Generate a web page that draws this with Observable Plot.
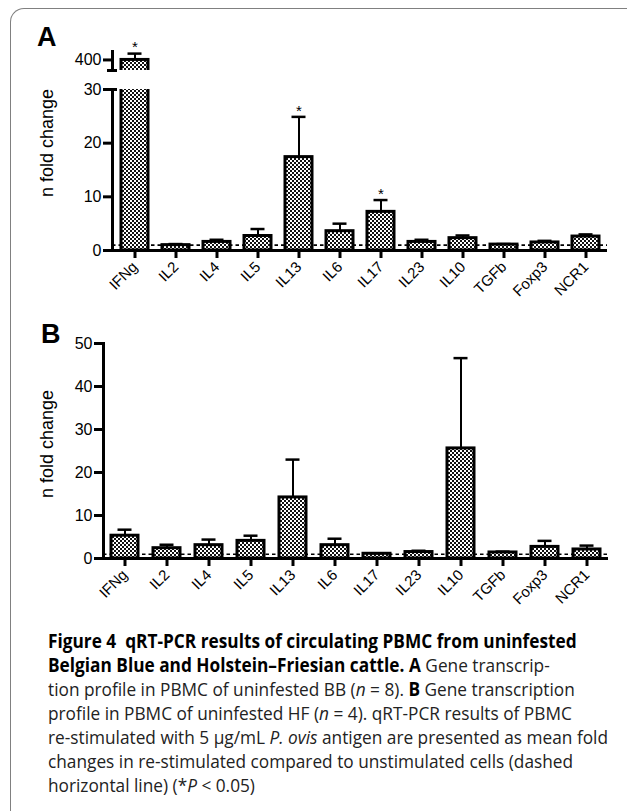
<!DOCTYPE html>
<html><head><meta charset="utf-8">
<script src="https://cdn.jsdelivr.net/npm/d3@7"></script>
<script src="https://cdn.jsdelivr.net/npm/@observablehq/plot@0.6"></script>
<style>
html,body{margin:0;padding:0;background:#fff;}
#root{position:relative;width:627px;height:811px;overflow:hidden;font-family:"Liberation Sans",Arial,sans-serif;}
#frame{position:absolute;left:10px;top:8px;width:700px;height:900px;border-top:1.5px solid #808080;border-left:1.5px solid #808080;border-top-left-radius:14px;box-sizing:border-box;}
.panel{position:absolute;left:0;}
.letter{position:absolute;font-weight:bold;font-size:27px;line-height:1;color:#000;}
#caption{position:absolute;left:48px;top:629px;font-family:"Open Sans",sans-serif;font-size:19px;line-height:24px;color:#222;white-space:nowrap;transform-origin:0 0;}
#caption b{color:#000;}
</style>
</head><body>
<svg width="0" height="0" style="position:absolute">
  <defs>
    <pattern id="check" width="4" height="4" patternUnits="userSpaceOnUse">
      <rect width="4" height="4" fill="#fff"/>
      <rect width="2" height="2" fill="#111"/>
      <rect x="2" y="2" width="2" height="2" fill="#111"/>
    </pattern>
  </defs>
</svg>
<div id="root">
  <div id="frame"></div>
  <div class="letter" style="left:37px;top:24px;">A</div>
  <div class="letter" style="left:41px;top:321px;">B</div>
  <div id="upperA" class="panel" style="top:0px"></div>
  <div id="lowerA" class="panel" style="top:76px"></div>
  <div id="panelB" class="panel" style="top:300px"></div>
  <div id="caption">
    <div class="ln"><b>Figure 4&nbsp; qRT-PCR results of circulating PBMC from uninfested</b></div>
    <div class="ln"><b>Belgian Blue and Holstein–Friesian cattle. A</b> Gene transcrip-</div>
    <div class="ln">tion profile in PBMC of uninfested BB (<i>n</i> = 8). <b>B</b> Gene transcription</div>
    <div class="ln">profile in PBMC of uninfested HF (<i>n</i> = 4). qRT-PCR results of PBMC</div>
    <div class="ln">re-stimulated with 5 µg/mL <i>P. ovis</i> antigen are presented as mean fold</div>
    <div class="ln">changes in re-stimulated compared to unstimulated cells (dashed</div>
    <div class="ln">horizontal line) (*<i>P</i> &lt; 0.05)</div>
  </div>
</div>
<script>
// ---- data ----
const genes = ["IFNg","IL2","IL4","IL5","IL13","IL6","IL17","IL23","IL10","TGFb","Foxp3","NCR1"];
const meanA = [400, 1.0, 1.6, 2.7, 17.4, 3.6, 7.2, 1.6, 2.3, 1.1, 1.5, 2.6];
const errA  = [415, 1.2, 2.0, 4.0, 24.9, 5.0, 9.4, 2.0, 2.8, 1.2, 1.8, 3.0];
const sigA  = [true, false, false, false, true, false, true, false, false, false, false, false];
const meanB = [5.3, 2.4, 3.1, 4.1, 14.2, 3.1, 1.1, 1.5, 25.6, 1.4, 2.7, 2.1];
const errB  = [6.7, 3.2, 4.4, 5.3, 23.0, 4.6, 1.2, 1.8, 46.6, 1.6, 4.1, 3.0];
const yTicksA = [0, 10, 20, 30];
const yTicksAUpper = [400];
const yDomainA = [0, 30];
const yDomainAUpper = [375, 420];
const yTicksB = [0, 10, 20, 30, 40, 50];
const yDomainB = [0, 50];
const baseline = 1;
const yLabel = "n fold change";

const rowsA = genes.map((g, i) => ({gene: g, mean: meanA[i], err: errA[i], sig: sigA[i]}));
const rowsB = genes.map((g, i) => ({gene: g, mean: meanB[i], err: errB[i], sig: false}));

const style = {fontFamily: "'Liberation Sans', Arial, sans-serif", color: "black", background: "transparent", overflow: "visible"};
const xA = {domain: genes, paddingInner: 0.346, paddingOuter: 0.182, label: null};
const xB = {domain: genes, paddingInner: 0.36, paddingOuter: 0.161, label: null};

function barMarks(rows, dom) {
  const inDom = d => d.err >= dom[0] && d.err <= dom[1];
  return [
    Plot.barY(rows, {x: "gene", y: "mean", fill: "url(#check)", stroke: "black", strokeWidth: 3, clip: true}),
    Plot.ruleX(rows, {x: "gene", y1: "mean", y2: "err", stroke: "black", strokeWidth: 2, clip: true}),
    Plot.tickY(rows.filter(inDom), {x: "gene", y: "err", stroke: "black", strokeWidth: 2.5, inset: 6.5}),
    Plot.text(rows.filter(d => d.sig && inDom(d)), {x: "gene", y: "err", text: () => "*", dy: -6, fontSize: 15})
  ];
}

function labelMark(dx, dy) {
  return Plot.text([yLabel], {frameAnchor: "left", textAnchor: "middle", lineAnchor: "middle", rotate: -90, dx, dy, fontSize: 18});
}

// Panel A, upper segment
const upA = Plot.plot({
  width: 627, height: 76, marginTop: 51, marginBottom: 6, marginLeft: 112, marginRight: 20,
  x: {...xA, axis: null},
  y: {domain: yDomainAUpper, label: null},
  style,
  marks: [
    ...barMarks(rowsA, yDomainAUpper),
    Plot.frame({anchor: "left", stroke: "black", strokeWidth: 3}),
    Plot.axisY({ticks: yTicksAUpper, tickSize: 9, strokeWidth: 3, fontSize: 16, tickPadding: 2, label: null}),
    Plot.axisY({ticks: [yDomainAUpper[0]], tickSize: 10, dx: 5, strokeWidth: 3, tickFormat: () => "", label: null})
  ]
});
document.getElementById("upperA").append(upA);

// Panel A, lower segment
const loA = Plot.plot({
  width: 627, height: 224, marginTop: 13, marginBottom: 50, marginLeft: 112, marginRight: 20,
  x: xA,
  y: {domain: yDomainA, label: null},
  style,
  marks: [
    Plot.ruleY([baseline], {stroke: "black", strokeWidth: 1.6, strokeDasharray: "3.5,3"}),
    ...barMarks(rowsA, yDomainA),
    Plot.ruleY([0], {stroke: "black", strokeWidth: 3}),
    Plot.frame({anchor: "left", stroke: "black", strokeWidth: 3}),
    Plot.axisY({ticks: yTicksA, tickSize: 9, strokeWidth: 3, fontSize: 16, tickPadding: 2, label: null}),
    Plot.axisY({ticks: [yDomainA[1]], tickSize: 10, dx: 5, strokeWidth: 3, tickFormat: () => "", label: null}),
    Plot.axisX({tickRotate: -45, tickSize: 8, strokeWidth: 3, fontSize: 15, label: null}),
    labelMark(-65, -27)
  ]
});
document.getElementById("lowerA").append(loA);

// Panel B
const pB = Plot.plot({
  width: 627, height: 300, marginTop: 43, marginBottom: 42, marginLeft: 103, marginRight: 19,
  x: xB,
  y: {domain: yDomainB, label: null},
  style,
  marks: [
    Plot.ruleY([baseline], {stroke: "black", strokeWidth: 1.6, strokeDasharray: "3.5,3"}),
    ...barMarks(rowsB, yDomainB),
    Plot.ruleY([0], {stroke: "black", strokeWidth: 3}),
    Plot.frame({anchor: "left", stroke: "black", strokeWidth: 3}),
    Plot.axisY({ticks: yTicksB, tickSize: 9, strokeWidth: 3, fontSize: 16, tickPadding: 2, label: null}),
    Plot.axisX({tickRotate: -45, tickSize: 8, strokeWidth: 3, fontSize: 15, label: null}),
    labelMark(-56, -7)
  ]
});
document.getElementById("panelB").append(pB);

// fit caption width to the reference text block
const cap = document.getElementById("caption");
const w1 = cap.querySelector(".ln").getBoundingClientRect().width;
cap.style.transform = `scaleX(${560 / w1})`;
</script>
</body></html>
